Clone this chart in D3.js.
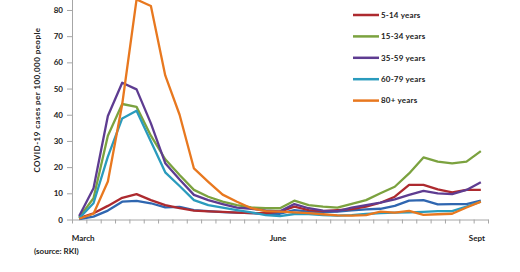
<!DOCTYPE html>
<html lang="en">

<head>
  <meta charset="UTF-8">
  <title>COVID-19 cases by age</title>
  <script src="https://cdn.jsdelivr.net/npm/d3@7"></script>
  <style>
    body {
      margin: 0;
      background: white;
    }

    text {
      font-family: Lato, "DejaVu Sans", sans-serif;
      font-weight: bold;
      fill: #222;
    }

    .axis path,
    .axis line {
      stroke: #a6a6a6;
    }
  </style>
</head>

<body>
  <div id="chart"></div>
  <script>
    // calendar weeks, early March to early September
    const weeks = d3.range(10, 39)

    const ageGroups = ['0-4 years', '5-14 years', '15-34 years', '35-59 years', '60-79 years', '80+ years']
    const colors = ['#2f66b0', '#ad2a2f', '#7ba23f', '#5e3c91', '#2a9bbd', '#e8781f']

    const age0to4 = [0.1, 1.1, 3.4, 6.8, 7.1, 6.2, 4.6, 4.8, 3.6, 3.2, 2.8, 2.6, 2.4, 2.2, 2.2, 3.6, 3.0, 2.8, 3.0, 3.5, 3.9, 4.1, 5.2, 7.2, 7.4, 5.8, 5.9, 5.9, 7.2]
    const age5to14 = [0.5, 2.4, 5.2, 8.3, 9.7, 7.4, 5.5, 4.3, 3.4, 3.1, 2.9, 2.6, 2.4, 2.4, 3.0, 4.9, 3.6, 3.2, 3.6, 4.0, 4.9, 6.4, 8.7, 13.2, 13.2, 11.5, 10.4, 11.3, 11.3]
    const age15to34 = [0.8, 8.1, 32, 44.1, 43, 32, 23, 17, 11.3, 8.7, 6.8, 5.5, 4.6, 4.3, 4.3, 7.2, 5.5, 4.9, 4.5, 6.0, 7.4, 10, 12.5, 17.6, 23.7, 22.1, 21.4, 22.1, 26.1]
    const age35to59 = [1.3, 11.9, 39.5, 52.2, 49.7, 36.7, 21.5, 15.3, 9.4, 7.4, 5.9, 4.5, 4.1, 3.4, 3.1, 5.9, 4.3, 3.4, 3.2, 4.5, 5.5, 6.4, 7.7, 9.4, 10.9, 10, 9.7, 11.3, 14.2]
    const age60to79 = [0.5, 6.2, 24, 38.6, 41.5, 29.8, 18, 12.8, 7.4, 5.5, 4.5, 3.6, 2.7, 1.7, 1.3, 2.1, 2.1, 1.7, 1.5, 1.7, 2.1, 2.4, 2.6, 2.7, 2.9, 3.2, 3.2, 4.9, 6.8]
    const age80plus = [0.3, 2.2, 14.5, 44, 84, 81.5, 55, 40, 19.5, 14.4, 9.5, 6.8, 4.3, 3.2, 3.0, 2.7, 2.4, 2.0, 1.6, 1.5, 1.7, 3.0, 2.6, 3.3, 1.8, 2.0, 2.2, 4.6, 6.8]
    const series = [age0to4, age5to14, age15to34, age35to59, age60to79, age80plus]

    const yTicks = [0, 10, 20, 30, 40, 50, 60, 70, 80]
    const monthLabels = [{ week: 10, label: 'March' }, { week: 24, label: 'June' }, { week: 38, label: 'Sept' }]

    const width = 520
    const height = 272
    const left = 72
    const right = 488
    const bottom = 219.5

    const svg = d3.select('#chart')
      .append('svg')
      .attr('width', width)
      .attr('height', height)

    const xScale = d3.scaleBand()
      .domain(weeks)
      .range([left, right])

    // tick positions on the boundaries between weeks
    const xTickScale = d3.scaleLinear()
      .domain([0, weeks.length])
      .range([left, right])

    const yScale = d3.scaleLinear()
      .domain([0, 90])
      .range([bottom, bottom - 90 * 2.619])

    const xMid = w => xScale(w) + xScale.bandwidth() / 2

    svg.append('g')
      .attr('class', 'axis')
      .attr('transform', `translate(0, ${bottom})`)
      .call(d3.axisBottom(xTickScale).tickValues(d3.range(weeks.length + 1)).tickFormat('').tickSize(4).tickSizeOuter(0))

    const yAxis = svg.append('g')
      .attr('class', 'axis')
      .attr('transform', `translate(${left}, 0)`)
      .call(d3.axisLeft(yScale).tickValues(yTicks).tickSize(5).tickSizeOuter(0).tickPadding(4))
    yAxis.selectAll('text')
      .style('font-size', '8px')
      .style('fill', '#222')

    svg.append('text')
      .attr('transform', `translate(40, 100) rotate(-90)`)
      .attr('text-anchor', 'middle')
      .style('font-size', '8px')
      .style('letter-spacing', '0.45px')
      .text('COVID-19 cases per 100,000 people')

    svg.selectAll('.month')
      .data(monthLabels)
      .enter()
      .append('text')
      .attr('class', 'month')
      .attr('x', d => xMid(d.week))
      .attr('y', 241)
      .attr('dx', (d, i) => [4, -2, -4][i])
      .attr('text-anchor', 'middle')
      .style('font-size', '8px')
      .text(d => d.label)

    svg.append('text')
      .attr('x', 34)
      .attr('y', 254)
      .style('font-size', '8px')
      .text('(source: RKI)')

    const line = d3.line()
      .x((d, i) => xMid(weeks[i]))
      .y(d => yScale(d))

    svg.selectAll('.series')
      .data(series)
      .enter()
      .append('path')
      .attr('class', 'series')
      .attr('d', line)
      .attr('fill', 'none')
      .attr('stroke', (d, i) => colors[i])
      .attr('stroke-width', 2.3)
      .attr('stroke-linejoin', 'round')

    // legend: the 0-4 row lies above the visible area in the reference, so it is left out
    const legend = svg.selectAll('.legend')
      .data(ageGroups.slice(1))
      .enter()
      .append('g')
      .attr('class', 'legend')
      .attr('transform', (d, i) => `translate(353, ${15 + i * 21.4})`)

    legend.append('line')
      .attr('x1', 0)
      .attr('x2', 26)
      .attr('stroke', (d, i) => colors[i + 1])
      .attr('stroke-width', 2.5)

    legend.append('text')
      .attr('x', 28)
      .attr('dy', '0.35em')
      .style('font-size', '8px')
      .style('letter-spacing', '0.2px')
      .text(d => d)
  </script>
</body>

</html>
